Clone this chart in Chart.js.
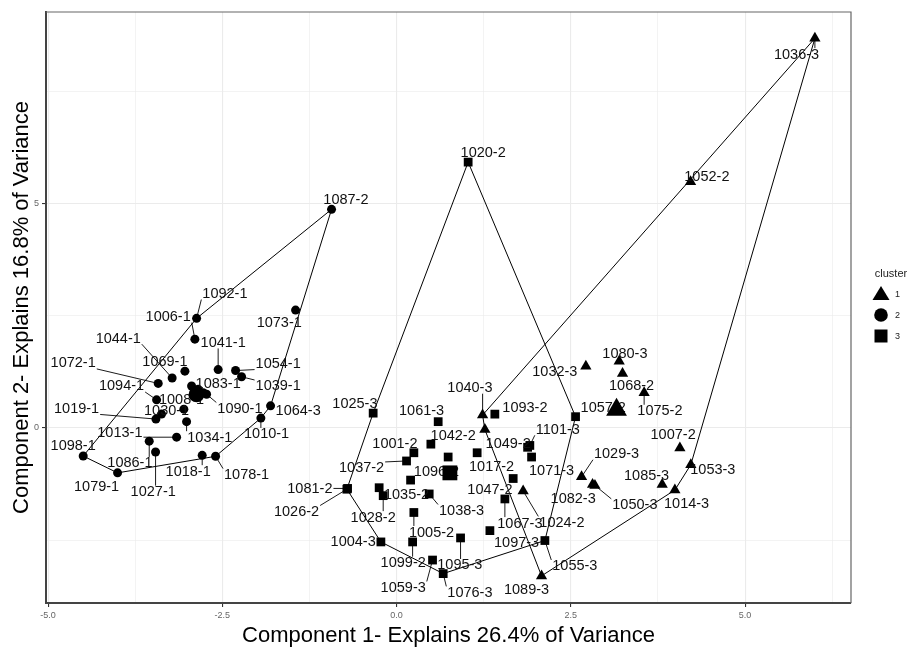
<!DOCTYPE html>
<html>
<head>
<meta charset="utf-8">
<script src="https://cdn.jsdelivr.net/npm/chart.js@4.4.0/dist/chart.umd.min.js"></script>
<style>
  html, body { margin: 0; padding: 0; background: #fff; }
  #plot { display: block; }
</style>
</head>
<body>
<canvas id="plot" width="917" height="650"></canvas>
<script>
// cluster points: [name, component 1, component 2]
const cluster1Points = [
  ['1036-3', 6.002, 8.684], ['1052-2', 4.218, 5.490], ['1040-3', 1.234, 0.287],
  ['', 1.267, -0.035], ['1032-3', 2.716, 1.377], ['1080-3', 3.194, 1.488],
  ['1068-2', 3.242, 1.214], ['1075-2', 3.552, 0.788], ['1007-2', 4.065, -0.448],
  ['1053-3', 4.222, -0.817], ['1029-3', 2.654, -1.088], ['1082-3', 2.812, -1.258],
  ['1050-3', 2.846, -1.280], ['1085-3', 3.811, -1.258], ['1014-3', 3.993, -1.382],
  ['1024-2', 1.816, -1.404], ['1089-3', 2.080, -3.296]
];
const cluster2Points = [
  ['1087-2', -0.933, 4.872], ['1092-1', -2.869, 2.444], ['1006-1', -2.894, 1.980],
  ['1073-1', -1.449, 2.627], ['1041-1', -2.560, 1.302], ['1069-1', -3.037, 1.267],
  ['1044-1', -3.220, 1.113], ['1072-1', -3.420, 0.993], ['1054-1', -2.310, 1.280],
  ['1039-1', -2.224, 1.141], ['1094-1', -3.443, 0.627], ['1083-1', -2.775, 0.788],
  ['1008-1', -2.918, 0.715], ['1090-1', -2.726, 0.751], ['', -2.941, 0.936],
  ['', -2.846, 0.861], ['1064-3', -1.808, 0.494], ['1030-1', -3.372, 0.309],
  ['', -3.052, 0.419], ['1019-1', -3.453, 0.199], ['1010-1', -1.947, 0.221],
  ['1034-1', -3.013, 0.141], ['1013-1', -3.156, -0.205], ['1086-1', -3.549, -0.294],
  ['1027-1', -3.458, -0.536], ['1018-1', -2.789, -0.609], ['1078-1', -2.597, -0.631],
  ['1098-1', -4.496, -0.625], ['1079-1', -4.003, -1.000]
];
const cluster3Points = [
  ['1020-2', 1.027, 5.925], ['1025-3', -0.336, 0.331], ['1061-3', 0.597, 0.141],
  ['1093-2', 1.410, 0.309], ['1057-2', 2.568, 0.252], ['1042-2', 0.492, -0.360],
  ['1001-2', 0.248, -0.552], ['1096-2', 0.740, -0.647], ['1017-2', 1.156, -0.552],
  ['1101-3', 1.912, -0.389], ['1049-2', 1.880, -0.430], ['1071-3', 1.937, -0.647],
  ['1037-2', 0.143, -0.735], ['', 0.201, -1.161], ['1081-2', -0.703, -1.347],
  ['1026-2', -0.713, -1.364], ['1035-2', -0.250, -1.331], ['1028-2', -0.192, -1.508],
  ['1038-3', 0.468, -1.470], ['1047-2', 1.673, -1.126], ['1067-3', 1.554, -1.581],
  ['1005-2', 0.248, -1.883], ['1097-3', 1.339, -2.287], ['1055-3', 2.128, -2.508],
  ['1004-3', -0.225, -2.539], ['1099-2', 0.230, -2.539], ['1095-3', 0.918, -2.450],
  ['1059-3', 0.516, -2.943], ['1076-3', 0.669, -3.245]
];

// cluster centres (clusters 1, 2, 3)
const centerX = [3.156, -2.869, 0.765];
const centerY = [0.406, 0.751, -1.000];

// where the repelled text labels sit: [name, x, y]
const cluster1Labels = [
  ['1036-3', 5.739, 8.331], ['1052-2', 4.452, 5.600], ['1040-3', 1.052, 0.898],
  ['1032-3', 2.271, 1.267], ['1080-3', 3.276, 1.671], ['1068-2', 3.372, 0.936],
  ['1075-2', 3.778, 0.384], ['1007-2', 3.968, -0.155], ['1053-3', 4.538, -0.934],
  ['1029-3', 3.156, -0.574], ['1082-3', 2.534, -1.567], ['1050-3', 3.419, -1.713],
  ['1085-3', 3.587, -1.066], ['1014-3', 4.161, -1.678], ['1024-2', 2.372, -2.104],
  ['1089-3', 1.865, -3.589]
];
const cluster2Labels = [
  ['1087-2', -0.727, 5.093], ['1092-1', -2.463, 2.996], ['1006-1', -3.277, 2.481],
  ['1073-1', -1.684, 2.349], ['1041-1', -2.488, 1.907], ['1069-1', -3.324, 1.488],
  ['1044-1', -3.994, 2.002], ['1072-1', -4.640, 1.450], ['1054-1', -1.699, 1.435],
  ['1039-1', -1.699, 0.936], ['1094-1', -3.946, 0.936], ['1083-1', -2.560, 0.993],
  ['1008-1', -3.085, 0.640], ['1030-1', -3.300, 0.384], ['1019-1', -4.591, 0.435],
  ['1090-1', -2.248, 0.435], ['1064-3', -1.412, 0.384], ['1010-1', -1.865, -0.132],
  ['1013-1', -3.970, -0.095], ['1034-1', -2.679, -0.205], ['1098-1', -4.640, -0.389],
  ['1086-1', -3.826, -0.779], ['1018-1', -2.990, -0.962], ['1078-1', -2.152, -1.038],
  ['1079-1', -4.304, -1.309], ['1027-1', -3.492, -1.419]
];
const cluster3Labels = [
  ['1020-2', 1.242, 6.146], ['1025-3', -0.598, 0.552], ['1061-3', 0.359, 0.384],
  ['1093-2', 1.841, 0.457], ['1057-2', 2.964, 0.457], ['1042-2', 0.812, -0.168],
  ['1001-2', -0.024, -0.353], ['1096-2', 0.572, -0.978], ['1017-2', 1.363, -0.868],
  ['1101-3', 2.314, -0.029], ['1049-2', 1.601, -0.353], ['1071-3', 2.224, -0.940],
  ['1037-2', -0.502, -0.890], ['1081-2', -1.244, -1.347], ['1026-2', -1.435, -1.861],
  ['1035-2', 0.143, -1.492], ['1028-2', -0.336, -1.987], ['1038-3', 0.933, -1.839],
  ['1047-2', 1.339, -1.360], ['1067-3', 1.769, -2.119], ['1005-2', 0.502, -2.318],
  ['1097-3', 1.722, -2.561], ['1055-3', 2.558, -3.075], ['1004-3', -0.623, -2.523],
  ['1099-2', 0.095, -3.002], ['1095-3', 0.908, -3.053], ['1059-3', 0.095, -3.554],
  ['1076-3', 1.052, -3.664]
];

// axis ticks
const xMajor = [-5, -2.5, 0, 2.5, 5];
const xMajorLabels = ['-5.0', '-2.5', '0.0', '2.5', '5.0'];
const xMinor = [-3.75, -1.25, 1.25, 3.75, 6.25];
const yMajor = [0, 5];
const yMajorLabels = ['0', '5'];
const yMinor = [-2.5, 2.5, 7.5];

const clusterNames = ['1', '2', '3'];
const clusterShapes = ['triangle', 'circle', 'rect'];

const FONT = '"Liberation Sans", Arial, Helvetica, sans-serif';

function toXY(list) {
  return list.map(p => ({ x: p[1], y: p[2], name: p[0] }));
}

// convex hull (monotone chain), closed
function convexHull(pts) {
  const p = pts.slice().sort((a, b) => a.x - b.x || a.y - b.y);
  const cross = (o, a, b) => (a.x - o.x) * (b.y - o.y) - (a.y - o.y) * (b.x - o.x);
  const lower = [];
  for (const q of p) {
    while (lower.length >= 2 && cross(lower[lower.length - 2], lower[lower.length - 1], q) <= 0) lower.pop();
    lower.push(q);
  }
  const upper = [];
  for (let i = p.length - 1; i >= 0; i--) {
    const q = p[i];
    while (upper.length >= 2 && cross(upper[upper.length - 2], upper[upper.length - 1], q) <= 0) upper.pop();
    upper.push(q);
  }
  upper.pop();
  lower.pop();
  const h = lower.concat(upper);
  h.push(h[0]);
  return h.map(q => ({ x: q.x, y: q.y }));
}

const pointSets = [cluster1Points, cluster2Points, cluster3Points].map(toXY);
const labelSets = [cluster1Labels, cluster2Labels, cluster3Labels];
const pointRadius = [6.5, 4.5, 6.2];

const datasets = [];
// centres on top
datasets.push({
  label: 'centers',
  data: centerX.map((x, i) => ({ x: x, y: centerY[i] })),
  pointStyle: clusterShapes,
  pointRadius: [12, 8, 10.5],
  backgroundColor: '#000',
  borderColor: '#000',
  borderWidth: 0,
  showLine: false,
  order: 0
});
pointSets.forEach((pts, i) => {
  datasets.push({
    label: 'cluster ' + clusterNames[i],
    data: pts,
    pointStyle: clusterShapes[i],
    pointRadius: pointRadius[i],
    backgroundColor: '#000',
    borderColor: '#000',
    borderWidth: 0,
    showLine: false,
    order: 2
  });
});
pointSets.forEach((pts, i) => {
  datasets.push({
    label: 'hull ' + clusterNames[i],
    data: convexHull(pts),
    showLine: true,
    pointRadius: 0,
    borderColor: '#000',
    borderWidth: 1,
    backgroundColor: 'transparent',
    fill: false,
    tension: 0,
    order: 3
  });
});

// labels + repel segments, drawn just before the centres
const labelPlugin = {
  id: 'pointLabels',
  beforeDatasetDraw(chart, args) {
    if (chart.data.datasets[args.index].label !== 'centers') return;
    const ctx = chart.ctx;
    const xs = chart.scales.x, ys = chart.scales.y;
    ctx.save();
    ctx.font = '14.5px ' + FONT;
    ctx.textAlign = 'center';
    ctx.textBaseline = 'middle';
    labelSets.forEach((labels, ci) => {
      const pts = pointSets[ci];
      labels.forEach(l => {
        const pt = pts.find(p => p.name === l[0]);
        const lx = xs.getPixelForValue(l[1]);
        const ly = ys.getPixelForValue(l[2]);
        if (pt) {
          const px = xs.getPixelForValue(pt.x);
          const py = ys.getPixelForValue(pt.y);
          const hw = ctx.measureText(l[0]).width / 2 + 1, hh = 6;
          const nx = Math.min(Math.max(px, lx - hw), lx + hw);
          const ny = Math.min(Math.max(py, ly - hh), ly + hh);
          if (Math.hypot(nx - px, ny - py) > 9) {
            ctx.strokeStyle = '#000';
            ctx.lineWidth = 0.9;
            ctx.beginPath();
            ctx.moveTo(px, py);
            ctx.lineTo(nx, ny);
            ctx.stroke();
          }
        }
        ctx.fillStyle = '#111';
        ctx.fillText(l[0], lx, ly + 0.5);
      });
    });
    ctx.restore();
  }
};

// grey top/right panel border
const framePlugin = {
  id: 'frame',
  beforeDatasetsDraw(chart) {
    const a = chart.chartArea, ctx = chart.ctx;
    ctx.save();
    ctx.strokeStyle = '#666';
    ctx.lineWidth = 1.2;
    ctx.beginPath();
    ctx.moveTo(a.left, a.top);
    ctx.lineTo(a.right, a.top);
    ctx.lineTo(a.right, a.bottom);
    ctx.stroke();
    ctx.restore();
  }
};

// ggplot-like legend on the right
const legendPlugin = {
  id: 'clusterLegend',
  afterDraw(chart) {
    const ctx = chart.ctx;
    ctx.save();
    ctx.fillStyle = '#222';
    ctx.font = '11px ' + FONT;
    ctx.textAlign = 'center';
    ctx.textBaseline = 'middle';
    ctx.fillText('cluster', 891, 274);
    const cx = 881, rows = [294, 315, 336];
    ctx.fillStyle = '#000';
    rows.forEach((y, i) => {
      ctx.beginPath();
      if (clusterShapes[i] === 'triangle') {
        ctx.moveTo(cx, y - 8);
        ctx.lineTo(cx + 8.5, y + 6);
        ctx.lineTo(cx - 8.5, y + 6);
        ctx.closePath();
      } else if (clusterShapes[i] === 'circle') {
        ctx.arc(cx, y, 6.8, 0, Math.PI * 2);
      } else {
        ctx.rect(cx - 6.5, y - 6.5, 13, 13);
      }
      ctx.fill();
    });
    ctx.fillStyle = '#222';
    ctx.font = '9px ' + FONT;
    ctx.textAlign = 'left';
    rows.forEach((y, i) => ctx.fillText(clusterNames[i], 895, y + 1));
    ctx.restore();
  }
};

function gridOpts(major) {
  const isMajor = c => c.tick && major.includes(c.tick.value);
  return {
    color: '#ebebeb',
    lineWidth: c => (isMajor(c) ? 1.1 : 0.6),
    tickColor: c => (isMajor(c) ? '#333' : 'rgba(0,0,0,0)'),
    tickLength: 4,
    drawTicks: true
  };
}

new Chart(document.getElementById('plot'), {
  type: 'scatter',
  data: { datasets: datasets },
  options: {
    responsive: false,
    animation: false,
    layout: { padding: { top: 7, right: 66, left: 0, bottom: 0 } },
    plugins: { legend: { display: false }, tooltip: { enabled: false } },
    scales: {
      x: {
        type: 'linear',
        min: -5.03,
        max: 6.52,
        afterBuildTicks: s => { s.ticks = xMajor.concat(xMinor).sort((a, b) => a - b).map(v => ({ value: v })); },
        afterFit: s => { s.height = 47; },
        ticks: {
          autoSkip: false,
          maxRotation: 0,
          padding: 3,
          color: '#666',
          font: { size: 9, family: FONT },
          callback: v => { const i = xMajor.indexOf(v); return i < 0 ? '' : xMajorLabels[i]; }
        },
        grid: gridOpts(xMajor),
        border: { display: true, color: '#444', width: 2 },
        title: {
          display: true,
          text: 'Component 1- Explains 26.4% of Variance',
          color: '#000',
          font: { size: 22, family: FONT },
          padding: { top: 0, bottom: 1 }
        }
      },
      y: {
        type: 'linear',
        min: -3.9,
        max: 9.27,
        afterBuildTicks: s => { s.ticks = yMajor.concat(yMinor).sort((a, b) => a - b).map(v => ({ value: v })); },
        afterFit: s => { s.width = 46; },
        ticks: {
          autoSkip: false,
          padding: 3,
          color: '#666',
          font: { size: 9, family: FONT },
          callback: v => { const i = yMajor.indexOf(v); return i < 0 ? '' : yMajorLabels[i]; }
        },
        grid: gridOpts(yMajor),
        border: { display: true, color: '#444', width: 2 },
        title: {
          display: true,
          text: 'Component 2- Explains 16.8% of Variance',
          color: '#000',
          font: { size: 22, family: FONT },
          padding: { top: 9, bottom: 0 }
        }
      }
    }
  },
  plugins: [labelPlugin, framePlugin, legendPlugin]
});
</script>
</body>
</html>
